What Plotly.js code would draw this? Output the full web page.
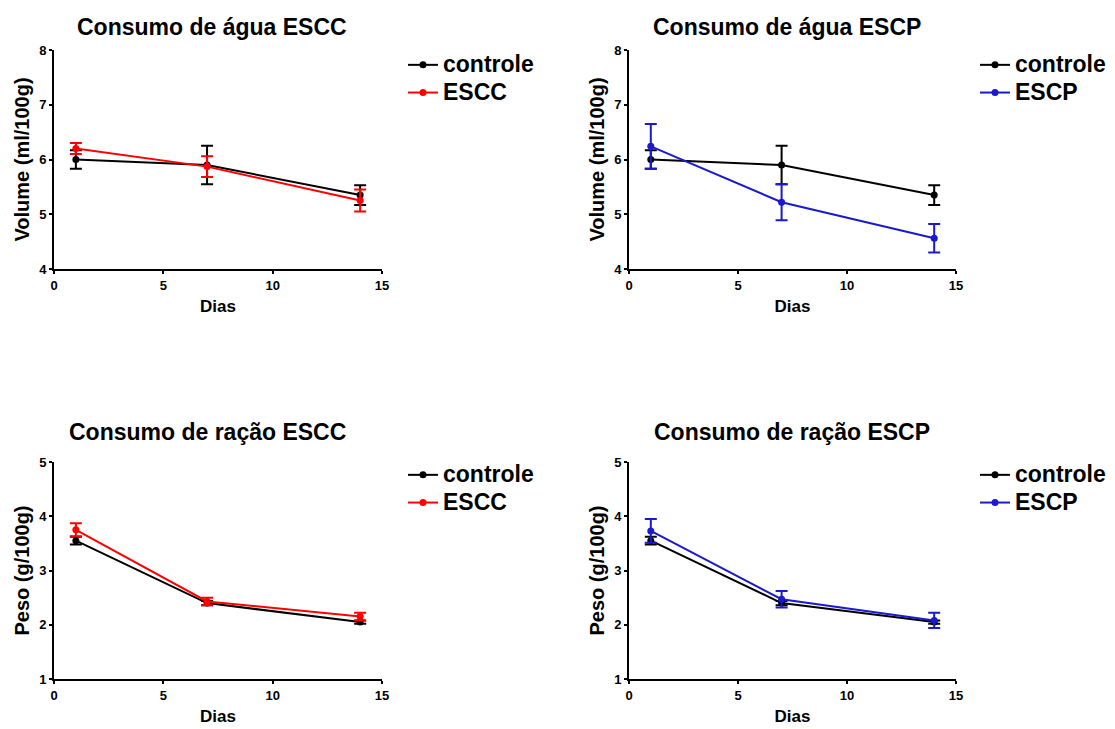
<!DOCTYPE html>
<html>
<head>
<meta charset="utf-8">
<script src="https://cdn.plot.ly/plotly-3.0.1.min.js"></script>
<style>html,body{margin:0;padding:0;background:#fff;}#chart{width:1115px;height:729px;}</style>
</head>
<body>
<div id="chart"></div>
<script>
const days = [1, 7, 14];
const aguaControle = [6.0, 5.9, 5.35];
const aguaControleErr = [0.17, 0.35, 0.18];
const aguaESCC = [6.2, 5.87, 5.25];
const aguaESCCErr = [0.1, 0.19, 0.2];
const aguaESCP = [6.24, 5.22, 4.56];
const aguaESCPErr = [0.41, 0.33, 0.26];
const racaoControle = [3.55, 2.40, 2.05];
const racaoControleErr = [0.07, 0.04, 0.03];
const racaoESCC = [3.75, 2.43, 2.15];
const racaoESCCErr = [0.12, 0.07, 0.07];
const racaoESCP = [3.73, 2.47, 2.08];
const racaoESCPErr = [0.22, 0.15, 0.14];

const titles = ['Consumo de água ESCC', 'Consumo de água ESCP', 'Consumo de ração ESCC', 'Consumo de ração ESCP'];
const yTitles = ['Volume (ml/100g)', 'Volume (ml/100g)', 'Peso (g/100g)', 'Peso (g/100g)'];
const xTitle = 'Dias';
const groupNames = ['controle', 'ESCC', 'ESCP'];

const BLACK = '#000000', RED = '#ff0000', BLUE = '#1a1acc';
const FONT = 'Liberation Sans, Arial, sans-serif';

function tr(y, err, name, color, ax, leg) {
  return {
    x: days, y: y, name: '<span style="font-size:23px">' + name + '</span>', type: 'scatter', mode: 'lines+markers',
    xaxis: 'x' + ax, yaxis: 'y' + ax, legend: leg,
    line: {color: color, width: 2},
    marker: {color: color, size: 7, symbol: 'circle'},
    error_y: {type: 'data', array: err, visible: true, color: color, thickness: 2, width: 6},
    hoverinfo: 'skip'
  };
}

const data = [
  tr(aguaControle, aguaControleErr, groupNames[0], BLACK, '', 'legend'),
  tr(aguaESCC, aguaESCCErr, groupNames[1], RED, '', 'legend'),
  tr(aguaControle, aguaControleErr, groupNames[0], BLACK, '2', 'legend2'),
  tr(aguaESCP, aguaESCPErr, groupNames[2], BLUE, '2', 'legend2'),
  tr(racaoControle, racaoControleErr, groupNames[0], BLACK, '3', 'legend3'),
  tr(racaoESCC, racaoESCCErr, groupNames[1], RED, '3', 'legend3'),
  tr(racaoControle, racaoControleErr, groupNames[0], BLACK, '4', 'legend4'),
  tr(racaoESCP, racaoESCPErr, groupNames[2], BLUE, '4', 'legend4')
];

const W = 1115, H = 729;
function xd(a, b) { return [a / W, b / W]; }
function yd(top, bottom) { return [1 - bottom / H, 1 - top / H]; }

function xax(dom, anchor) {
  return {
    domain: dom, anchor: anchor, range: [0, 15], tickvals: [0, 5, 10, 15],
    showline: true, linecolor: '#000', linewidth: 2, ticks: 'outside', ticklen: 3, tickwidth: 2, tickcolor: '#000',
    showgrid: false, zeroline: false, fixedrange: true,
    tickfont: {family: FONT, size: 13, color: '#000', weight: 700},
    title: {text: xTitle, font: {family: FONT, size: 17, color: '#000', weight: 700}, standoff: 9}
  };
}
function yax(dom, anchor, range, ticks, t) {
  return {
    domain: dom, anchor: anchor, range: range, tickvals: ticks,
    showline: true, linecolor: '#000', linewidth: 2, ticks: 'outside', ticklen: 3, tickwidth: 2, tickcolor: '#000',
    showgrid: false, zeroline: false, fixedrange: true,
    tickfont: {family: FONT, size: 13, color: '#000', weight: 700},
    title: {text: t, font: {family: FONT, size: 20, color: '#000', weight: 700}, standoff: 4}
  };
}

const topY = yd(50, 269), botY = yd(462, 679);
const leftX = xd(54, 382), rightX = xd(629, 956);

function leg(xpx, ypx) {
  return {x: xpx / W, y: 1 - ypx / H, xanchor: 'left', yanchor: 'top', bgcolor: 'rgba(0,0,0,0)',
    font: {family: FONT, size: 19, color: '#000', weight: 700}, tracegroupgap: 0, itemwidth: 30};
}

const ann = [];
const titlePos = [[212, 27], [787, 27], [207, 432], [792, 432]];
titles.forEach((t, i) => ann.push({
  text: t, xref: 'paper', yref: 'paper', x: titlePos[i][0] / W, y: 1 - titlePos[i][1] / H,
  xanchor: 'center', yanchor: 'middle', showarrow: false,
  font: {family: FONT, size: 23, color: '#000', weight: 700}
}));

const layout = {
  width: W, height: H, margin: {l: 0, r: 0, t: 0, b: 0},
  paper_bgcolor: '#fff', plot_bgcolor: '#fff', showlegend: true,
  xaxis: xax(leftX, 'y'), yaxis: yax(topY, 'x', [4, 8], [4, 5, 6, 7, 8], yTitles[0]),
  xaxis2: xax(rightX, 'y2'), yaxis2: yax(topY, 'x2', [4, 8], [4, 5, 6, 7, 8], yTitles[1]),
  xaxis3: xax(leftX, 'y3'), yaxis3: yax(botY, 'x3', [1, 5], [1, 2, 3, 4, 5], yTitles[2]),
  xaxis4: xax(rightX, 'y4'), yaxis4: yax(botY, 'x4', [1, 5], [1, 2, 3, 4, 5], yTitles[3]),
  legend: leg(403, 46), legend2: leg(975, 46), legend3: leg(403, 456), legend4: leg(975, 456),
  annotations: ann
};

Plotly.newPlot('chart', data, layout, {displayModeBar: false, staticPlot: true});
</script>
</body>
</html>
